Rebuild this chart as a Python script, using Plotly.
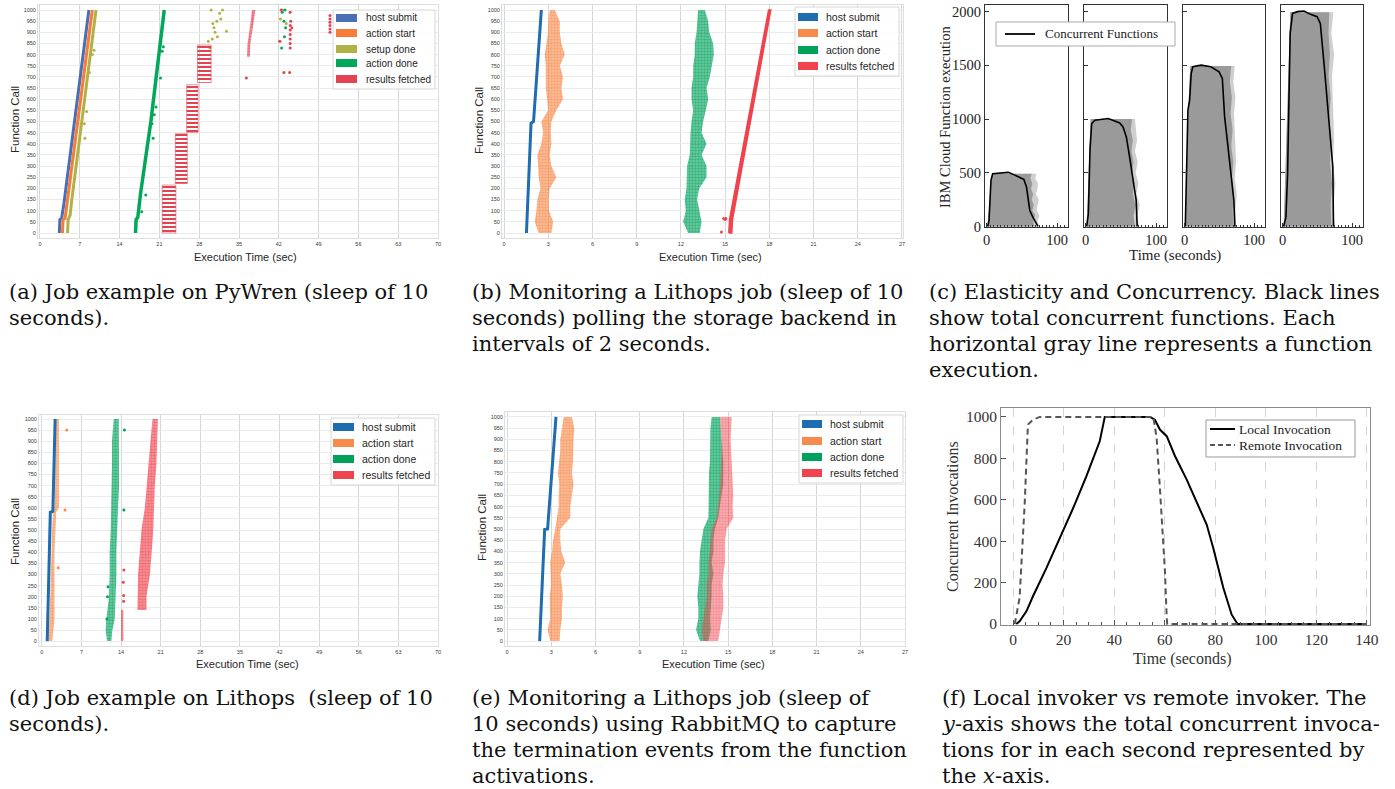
import plotly.graph_objects as go

W, H = 1395, 789

# ---------------- Panel (a): PyWren job ----------------
A_SUBMIT_CALLS = [0, 60, 65, 130, 1000]
A_SUBMIT_T = [3.4, 3.5, 3.8, 4.2, 8.6]
A_START_CALLS = [0, 60, 65, 140, 1000]
A_START_T = [3.95, 4.05, 4.4, 4.8, 9.2]
A_SETUP_CALLS = [0, 60, 80, 150, 1000]
A_SETUP_T = [4.85, 4.95, 5.3, 5.6, 9.85]
A_DONE_CALLS = [0, 60, 70, 180, 500, 1000]
A_DONE_T = [16.8, 16.9, 17.2, 17.7, 19.5, 21.85]
A_SETUP_OUT_T = [7.9, 7.8, 8.2, 8.7, 9.2, 9.5, 9.3, 29.9, 30.3, 30.6, 31.1, 31.6, 32.1, 30.8, 32.8,
                 31.8, 30.1, 30.4, 31.2, 29.6, 42.3, 42.7, 43.3, 42.1]
A_SETUP_OUT_C = [425, 490, 545, 720, 800, 820, 880, 830, 870, 920, 950, 985, 1000, 900, 905,
                 960, 1000, 940, 880, 860, 960, 1000, 940, 860]
A_DONE_OUT_T = [18.6, 17.9, 19.9, 19.7, 20.1, 20.4, 21.2, 21.5, 21.7, 42.9, 43.2, 42.5, 43.0, 42.6, 43.1]
A_DONE_OUT_C = [170, 95, 425, 490, 530, 565, 695, 815, 835, 950, 920, 830, 880, 990, 1000]
A_FETCH_T0 = [21.5, 23.8, 25.8, 27.7]
A_FETCH_T1 = [23.9, 25.9, 27.8, 30.1]
A_FETCH_C0 = [0, 222, 450, 675]
A_FETCH_C1 = [215, 445, 665, 843]
A_FETCH2_CALLS = [790, 850, 900, 950, 1000]
A_FETCH2_LEFT = [36.4, 36.5, 36.8, 37.1, 37.3]
A_FETCH2_RIGHT = [36.9, 37.0, 37.3, 37.6, 37.9]
A_FETCH_OUT_T = [36.3, 42.2, 42.4, 42.9, 43.9, 44.0, 44.0, 44.0, 44.0, 44.0, 44.0, 44.1, 44.0, 44.3,
                 51.0, 51.0, 51.0, 51.0, 51.0, 51.0]
A_FETCH_OUT_C = [695, 860, 1000, 720, 720, 830, 850, 870, 890, 910, 930, 950, 990, 920,
                 900, 915, 930, 945, 960, 975]

# ---------------- Panel (b): Lithops polling ----------------
B_SUBMIT_CALLS = [0, 300, 492, 500, 1000]
B_SUBMIT_T = [1.52, 1.72, 1.83, 2.0, 2.53]
B_CALLS = [0, 50, 100, 150, 200, 250, 300, 350, 400, 450, 500, 550, 600, 650, 700, 750, 800, 850, 900, 950, 1000]
B_START_L = [2.35, 2.08, 2.2, 2.26, 2.47, 2.35, 2.31, 2.26, 2.53, 2.65, 2.53, 2.99, 2.92, 2.83, 2.83, 2.83, 2.76, 2.87, 2.99, 2.99, 3.1]
B_START_R = [3.21, 3.33, 3.05, 3.03, 3.1, 3.55, 3.21, 3.1, 3.21, 3.17, 3.21, 3.55, 4.0, 3.89, 4.0, 3.78, 4.12, 3.89, 3.78, 3.78, 3.44]
B_DONE_L = [12.49, 12.15, 12.33, 12.26, 12.38, 12.38, 12.42, 12.6, 12.6, 12.65, 12.72, 12.83, 12.72, 12.72, 12.83, 12.83, 12.94, 12.94, 13.06, 13.1, 13.17]
B_DONE_R = [13.28, 13.4, 13.24, 13.1, 13.24, 13.74, 13.74, 13.4, 13.74, 13.4, 13.51, 13.69, 13.85, 13.74, 13.96, 14.08, 14.23, 14.19, 13.92, 13.85, 13.62]
B_FETCH_CALLS = [0, 60, 1000]
B_FETCH_L = [15.25, 15.3, 17.95]
B_FETCH_R = [15.45, 15.5, 18.1]
B_FETCH_OUT_T = [14.75, 14.9, 15.05, 15.0]
B_FETCH_OUT_C = [5, 65, 65, 60]

# ---------------- Panel (c): elasticity ----------------
C1_T = [1.4, 3.3, 4.7, 6.1, 8.5, 18.9, 30.7, 37.7, 47, 52.8, 56.6, 59, 61.3, 66, 70.8, 73]
C1_Y = [0, 56, 243, 429, 491, 498, 504, 485, 460, 438, 367, 274, 149, 81, 25, 0]
C2_T = [1.4, 3.8, 6.1, 8.5, 13.1, 22.5, 31.9, 41.3, 48.4, 53.1, 57.8, 62.4, 67.1, 71.8, 73.2]
C2_Y = [0, 118, 709, 958, 989, 998, 1005, 983, 964, 927, 834, 647, 429, 243, 0]
C3_T = [0.9, 3.3, 4.7, 7.1, 9.4, 11.8, 23.6, 37.7, 49.5, 54.2, 57.5, 61.3, 66, 70.8, 72.2]
C3_Y = [0, 554, 1082, 1176, 1425, 1487, 1502, 1487, 1440, 1378, 1020, 802, 491, 243, 0]
C4_T = [1.4, 4.7, 7.1, 9, 10.8, 14.2, 21.2, 30.7, 40.1, 49.5, 54.2, 59.9, 66, 72.2, 73.1]
C4_Y = [0, 87, 491, 1176, 1798, 1984, 2000, 2006, 1975, 1953, 1891, 1487, 1020, 554, 0]
C1_CALLS = [0, 50, 100, 150, 200, 250, 300, 350, 400, 450, 490]
C1_LEFT = [1.5, 2, 2.5, 3, 3.5, 4, 4.5, 5, 5.5, 6.5, 8]
C1_RDARK = [68, 66, 69, 65, 67, 64, 66, 63, 65, 62, 64]
C1_RLIGHT = [74, 72, 75, 71, 73, 74, 70, 72, 73, 69, 71]
C2_CALLS = [0, 100, 200, 300, 400, 500, 600, 700, 800, 900, 1000]
C2_LEFT = [1.5, 2, 2.5, 3, 3.5, 4, 4.5, 5, 5.5, 6, 7]
C2_RDARK = [70, 68, 71, 67, 69, 66, 68, 65, 67, 64, 66]
C2_RLIGHT = [76, 73, 77, 72, 75, 71, 74, 70, 73, 72, 70]
C3_CALLS = [0, 150, 300, 450, 600, 750, 900, 1050, 1200, 1350, 1495]
C3_LEFT = [1, 1.5, 2, 2.5, 3, 3.5, 4, 5, 6, 7, 8]
C3_RDARK = [70, 69, 71, 68, 70, 67, 69, 66, 68, 65, 67]
C3_RLIGHT = [74, 73, 75, 72, 74, 73, 72, 71, 73, 70, 72]
C4_CALLS = [0, 200, 400, 600, 800, 1000, 1200, 1400, 1600, 1800, 1995]
C4_LEFT = [1.5, 2.5, 3.5, 4.5, 5.5, 6.5, 7, 8, 9, 10, 11]
C4_RDARK = [70, 69, 71, 68, 70, 67, 69, 66, 68, 66, 67]
C4_RLIGHT = [75, 73, 76, 72, 74, 73, 72, 71, 74, 70, 73]

# ---------------- Panel (d): Lithops job ----------------
D_SUBMIT_CALLS = [0, 580, 585, 1000]
D_SUBMIT_T = [0.95, 1.5, 1.95, 2.35]
D_CALLS = [0, 100, 200, 300, 400, 500, 580, 600, 700, 800, 900, 1000]
D_START_L = [1.24, 1.36, 1.36, 1.48, 1.65, 1.83, 1.95, 2.24, 2.36, 2.42, 2.42, 2.42]
D_START_R = [1.83, 2.24, 2.24, 2.24, 2.24, 2.36, 2.54, 3.01, 3.13, 3.13, 3.01, 3.01]
D_START_OUT_T = [4.4, 4.1, 2.9]
D_START_OUT_C = [950, 590, 330]
D_DONE_CALLS = [0, 50, 100, 150, 200, 300, 400, 500, 600, 700, 800, 900, 1000]
D_DONE_L = [11.52, 11.28, 11.4, 11.7, 11.87, 11.99, 11.99, 12.17, 12.29, 12.4, 12.4, 12.4, 12.7]
D_DONE_R = [12.29, 12.46, 12.88, 12.88, 13.05, 13.17, 13.17, 13.29, 13.47, 13.64, 13.64, 13.64, 13.59]
D_DONE_OUT_T = [14.6, 14.5, 11.6, 11.7, 11.5]
D_DONE_OUT_C = [950, 590, 200, 245, 100]
D_FETCH1_CALLS = [0, 140]
D_FETCH1_L = [14.0, 14.0]
D_FETCH1_R = [14.4, 14.4]
D_FETCH_OUT_T = [14.45, 14.4, 14.5, 14.45]
D_FETCH_OUT_C = [205, 265, 320, 180]
D_FETCH2_CALLS = [140, 200, 300, 400, 500, 600, 700, 800, 900, 1000]
D_FETCH2_L = [16.89, 16.89, 17.0, 17.3, 17.6, 18.2, 18.5, 18.8, 19.2, 19.55]
D_FETCH2_R = [18.49, 18.49, 19.1, 19.4, 19.7, 19.8, 19.96, 20.26, 20.38, 20.5]

# ---------------- Panel (e): Lithops RabbitMQ ----------------
E_SUBMIT_CALLS = [0, 498, 500, 1000]
E_SUBMIT_T = [2.21, 2.55, 2.75, 3.32]
E_CALLS = [0, 50, 100, 150, 200, 250, 300, 350, 400, 450, 500, 550, 600, 650, 700, 750, 800, 850, 900, 950, 1000]
E_START_L = [2.93, 2.75, 2.93, 2.89, 2.89, 2.98, 2.98, 2.93, 3.05, 3.12, 3.27, 3.39, 3.5, 3.5, 3.54, 3.45, 3.54, 3.61, 3.61, 3.72, 3.84]
E_START_R = [3.57, 3.61, 3.72, 3.72, 3.79, 3.72, 3.61, 3.95, 3.68, 3.61, 3.61, 4.29, 4.29, 4.4, 4.51, 4.4, 4.47, 4.51, 4.51, 4.56, 4.4]
E_DONE_L = [13.09, 12.82, 12.98, 12.98, 12.91, 12.98, 13.05, 13.05, 13.09, 13.2, 13.32, 13.66, 13.66, 13.66, 13.66, 13.7, 13.77, 13.77, 13.77, 13.8, 13.88]
E_DONE_R = [13.66, 13.82, 13.77, 13.82, 13.88, 13.88, 14.0, 13.88, 14.0, 14.0, 14.1, 14.33, 14.45, 14.55, 14.67, 14.67, 14.67, 14.6, 14.56, 14.5, 14.45]
E_FETCH_L = [13.32, 13.2, 13.32, 13.43, 13.54, 13.54, 13.66, 13.66, 13.72, 13.77, 13.88, 14.22, 14.33, 14.4, 14.45, 14.5, 14.56, 14.56, 14.56, 14.5, 14.45]
E_FETCH_R = [14.33, 14.45, 14.56, 14.67, 14.67, 14.62, 14.67, 14.79, 14.79, 14.79, 14.9, 15.35, 15.3, 15.35, 15.35, 15.3, 15.24, 15.2, 15.17, 15.2, 15.24]

# ---------------- Panel (f): local vs remote ----------------
F_LOCAL_T = [1.3, 2.6, 5.3, 7.9, 13.2, 18.5, 23.8, 29, 34.3, 36.3, 54.2, 56.1, 58.1, 60.8, 64.1, 68.7,
             72.6, 76.6, 79.2, 83.2, 86.5, 88.8, 140]
F_LOCAL_Y = [0, 13, 61, 134, 270, 415, 560, 713, 882, 1000, 1000, 987, 939, 907, 810, 697,
             593, 480, 367, 174, 45, 0, 0]
F_REMOTE_T = [0.7, 2.6, 4.6, 5.9, 7.9, 10.6, 55.5, 56.8, 58.1, 60.1, 60.8, 61, 140]
F_REMOTE_Y = [0, 126, 576, 963, 987, 1000, 1000, 899, 657, 254, 29, 0, 0]

LEG4 = ["host submit", "action start", "action done", "results fetched"]
LEG5 = ["host submit", "action start", "setup done", "action done", "results fetched"]
COLA = ["#4a6fb5", "#f77b39", "#b0b245", "#00a85a", "#e24352"]
COLB = ["#1f6db1", "#f88a4b", "#00a25b", "#f0434d"]

fig = go.Figure()


def nm(n):
    return "" if n == 1 else str(n)


def hex_rgba(c, a):
    c = c.lstrip("#")
    return "rgba(%d,%d,%d,%.2f)" % (int(c[0:2], 16), int(c[2:4], 16), int(c[4:6], 16), a)


def line(xs, ys, color, width, n, dash=None):
    fig.add_trace(go.Scatter(x=xs, y=ys, mode="lines", line=dict(color=color, width=width, dash=dash),
                             xaxis="x" + nm(n), yaxis="y" + nm(n), hoverinfo="skip", showlegend=False))


def dots(xs, ys, color, n, size=3):
    fig.add_trace(go.Scatter(x=xs, y=ys, mode="markers", marker=dict(color=color, size=size, line=dict(width=0)),
                             xaxis="x" + nm(n), yaxis="y" + nm(n), hoverinfo="skip", showlegend=False))


def band(calls, left, right, color, n, opacity=1.0, lw=0.0, speckle=True):
    xs = list(left) + list(right)[::-1] + [left[0]]
    ys = list(calls) + list(calls)[::-1] + [calls[0]]
    kw = {}
    if speckle:
        kw["fillpattern"] = dict(shape=".", fgcolor=color, bgcolor=hex_rgba(color, 0.55), size=3, solidity=0.6)
        fill = hex_rgba(color, 0.55)
    else:
        fill = color
    fig.add_trace(go.Scatter(x=xs, y=ys, mode="lines", fill="toself", fillcolor=fill,
                             line=dict(width=lw, color=color), opacity=opacity,
                             xaxis="x" + nm(n), yaxis="y" + nm(n), hoverinfo="skip", showlegend=False, **kw))


# ---- (a) ----
line(A_SUBMIT_T, A_SUBMIT_CALLS, COLA[0], 3, 1)
line(A_START_T, A_START_CALLS, COLA[1], 3, 1)
line(A_SETUP_T, A_SETUP_CALLS, COLA[2], 3, 1)
dots(A_SETUP_OUT_T, A_SETUP_OUT_C, COLA[2], 1)
line(A_DONE_T, A_DONE_CALLS, COLA[3], 3.5, 1)
dots(A_DONE_OUT_T, A_DONE_OUT_C, COLA[3], 1)
bx, by = [], []
for t0, t1, c0, c1 in zip(A_FETCH_T0, A_FETCH_T1, A_FETCH_C0, A_FETCH_C1):
    bx += [t0, t1, t1, t0, t0, None]
    by += [c0, c0, c1, c1, c0, None]
fig.add_trace(go.Scatter(x=bx, y=by, mode="lines", fill="toself", fillcolor="rgba(255,255,255,0)",
                         fillpattern=dict(shape="-", fgcolor=COLA[4], bgcolor="rgba(255,255,255,0)",
                                          fgopacity=1, size=4, solidity=0.5),
                         line=dict(width=0.8, color="rgba(226,67,82,0.7)"), xaxis="x", yaxis="y",
                         hoverinfo="skip", showlegend=False))
band(A_FETCH2_CALLS, A_FETCH2_LEFT, A_FETCH2_RIGHT, COLA[4], 1)
dots(A_FETCH_OUT_T, A_FETCH_OUT_C, COLA[4], 1)

# ---- (b) ----
band(B_CALLS, B_START_L, B_START_R, COLB[1], 2)
band(B_CALLS, B_DONE_L, B_DONE_R, COLB[2], 2)
band(B_FETCH_CALLS, B_FETCH_L, B_FETCH_R, COLB[3], 2, lw=1.5, speckle=False)
dots(B_FETCH_OUT_T, B_FETCH_OUT_C, COLB[3], 2)
line(B_SUBMIT_T, B_SUBMIT_CALLS, COLB[0], 3, 2)

# ---- (c) ----
c_sets = [
    (C1_CALLS, C1_LEFT, C1_RDARK, C1_RLIGHT, C1_T, C1_Y),
    (C2_CALLS, C2_LEFT, C2_RDARK, C2_RLIGHT, C2_T, C2_Y),
    (C3_CALLS, C3_LEFT, C3_RDARK, C3_RLIGHT, C3_T, C3_Y),
    (C4_CALLS, C4_LEFT, C4_RDARK, C4_RLIGHT, C4_T, C4_Y),
]
for i, (cc, cl, crd, crl, ct, cy) in enumerate(c_sets):
    n = 3 + i
    band(cc, cl, crl, "#cfcfcf", n, speckle=False)
    band(cc, cl, crd, "#9a9a9a", n, speckle=False)
    line(ct, cy, "#000000", 1.6, n)

# ---- (d) ----
band(D_CALLS, D_START_L, D_START_R, COLB[1], 7)
dots(D_START_OUT_T, D_START_OUT_C, COLB[1], 7)
band(D_DONE_CALLS, D_DONE_L, D_DONE_R, COLB[2], 7)
dots(D_DONE_OUT_T, D_DONE_OUT_C, COLB[2], 7)
band(D_FETCH1_CALLS, D_FETCH1_L, D_FETCH1_R, COLB[3], 7)
dots(D_FETCH_OUT_T, D_FETCH_OUT_C, COLB[3], 7)
band(D_FETCH2_CALLS, D_FETCH2_L, D_FETCH2_R, COLB[3], 7)
line(D_SUBMIT_T, D_SUBMIT_CALLS, COLB[0], 3, 7)

# ---- (e) ----
band(E_CALLS, E_START_L, E_START_R, COLB[1], 8)
band(E_CALLS, E_DONE_L, E_DONE_R, COLB[2], 8)
band(E_CALLS, E_FETCH_L, E_FETCH_R, COLB[3], 8, opacity=0.75)
line(E_SUBMIT_T, E_SUBMIT_CALLS, COLB[0], 3, 8)

# ---- (f) ----
line(F_LOCAL_T, F_LOCAL_Y, "#000000", 2, 9)
line(F_REMOTE_T, F_REMOTE_Y, "#555555", 2, 9, dash="6px,4px")

# ---------------- axes ----------------
layout = dict(width=W, height=H, margin=dict(l=0, r=0, t=0, b=0, pad=0, autoexpand=False),
              paper_bgcolor="white", plot_bgcolor="white", showlegend=False)


def dom_x(a, b):
    return [a / W, b / W]


def dom_y(top, bottom):
    return [1 - bottom / H, 1 - top / H]


SANS_TICK = dict(family="Liberation Sans", size=5.5, color="#3a3a3a")


def sns_axes(n, xd, yd, xr, xt, yr):
    k = nm(n)
    layout["xaxis" + k] = dict(domain=dom_x(*xd), range=xr, tickvals=xt, anchor="y" + k, showgrid=True,
                               gridcolor="#d6d6d6", gridwidth=1, zeroline=False, showline=True,
                               linecolor="#dedede", mirror=True, ticks="", tickfont=SANS_TICK,
                               automargin=False, fixedrange=True)
    layout["yaxis" + k] = dict(domain=dom_y(*yd), range=yr, tickvals=list(range(0, 1001, 50)), anchor="x" + k,
                               showgrid=True, gridcolor="#ebebeb", gridwidth=1, zeroline=False, showline=True,
                               linecolor="#dedede", mirror=True, ticks="", tickfont=SANS_TICK,
                               automargin=False, fixedrange=True)


sns_axes(1, (38, 438), (5, 238), [-0.35, 70], list(range(0, 71, 7)), [-22.4, 1022.4])
sns_axes(2, (502, 903), (5, 238), [-0.14, 27.07], list(range(0, 28, 3)), [-22.4, 1022.4])
sns_axes(7, (39, 438), (415, 646), [-0.5, 70], list(range(0, 71, 7)), [-22, 1018])
sns_axes(8, (505, 905), (412, 646), [-0.14, 27], list(range(0, 28, 3)), [-22, 1022])

SERIF = "Liberation Serif"
c_x = [(985, 1068), (1084, 1167), (1183, 1265), (1281, 1363)]
for i, xd in enumerate(c_x):
    k = nm(3 + i)
    layout["xaxis" + k] = dict(domain=dom_x(*xd), range=[-2.4, 115.6], tickvals=[0, 100], anchor="y" + k,
                               showgrid=False, zeroline=False, showline=True, linecolor="#333333", linewidth=1,
                               mirror=True, ticks="inside", ticklen=4, tickcolor="#333333",
                               minor=dict(dtick=5, ticks="inside", ticklen=2, tickcolor="#333333"),
                               tickfont=dict(family=SERIF, size=14.5, color="#222222"),
                               automargin=False, fixedrange=True)
    layout["yaxis" + k] = dict(domain=dom_y(5, 227), range=[-5, 2062], tickvals=[0, 500, 1000, 1500, 2000],
                               anchor="x" + k, showgrid=False, zeroline=False, showline=True,
                               linecolor="#333333", linewidth=1, mirror=True, ticks="inside", ticklen=4,
                               tickcolor="#333333", showticklabels=(i == 0),
                               tickfont=dict(family=SERIF, size=14.5, color="#222222"),
                               automargin=False, fixedrange=True)

layout["xaxis9"] = dict(domain=dom_x(1001, 1370), range=[-4.75, 141.2], tickvals=list(range(0, 141, 20)),
                        anchor="y9", showgrid=True, gridcolor="#d4d4d4", griddash="dash", gridwidth=1,
                        zeroline=False, showline=True, linecolor="#8a8a8a", mirror=True, ticks="inside",
                        ticklen=5, tickcolor="#555555",
                        minor=dict(dtick=5, ticks="inside", ticklen=3, tickcolor="#555555", showgrid=False),
                        tickfont=dict(family=SERIF, size=15.5, color="#333333"),
                        automargin=False, fixedrange=True)
layout["yaxis9"] = dict(domain=dom_y(408, 625), range=[-4.8, 1043], tickvals=list(range(0, 1001, 200)),
                        anchor="x9", showgrid=False, zeroline=False, showline=True, linecolor="#8a8a8a",
                        mirror=True, ticks="inside", ticklen=5, tickcolor="#555555",
                        tickfont=dict(family=SERIF, size=15.5, color="#333333"),
                        automargin=False, fixedrange=True)

fig.update_layout(**layout)

# ---------------- text, legends ----------------
ann = []
shapes = []


def text(x, y, s, size, family, color="#222222", anchor="left", angle=0, valign="middle"):
    ann.append(dict(x=x / W, y=1 - y / H, xref="paper", yref="paper", text=s, showarrow=False,
                    xanchor=anchor, yanchor=valign, textangle=angle,
                    font=dict(size=size, family=family, color=color)))


def rect(x0, y0, x1, y1, fill, linecolor=None, lw=1):
    shapes.append(dict(type="rect", xref="paper", yref="paper", x0=x0 / W, x1=x1 / W,
                       y0=1 - y1 / H, y1=1 - y0 / H, fillcolor=fill,
                       line=dict(color=linecolor or fill, width=lw if linecolor else 0)))


def seg(x0, y0, x1, y1, color, width, dash=None):
    shapes.append(dict(type="line", xref="paper", yref="paper", x0=x0 / W, x1=x1 / W,
                       y0=1 - y0 / H, y1=1 - y1 / H, line=dict(color=color, width=width, dash=dash)))


def sns_legend(box, rows, px0, px1, tx, labels, colors, fsize):
    rect(*box, "rgba(255,255,255,0.9)", "#d6d6d6", 1)
    for yy, lab, col in zip(rows, labels, colors):
        rect(px0, yy - 4, px1, yy + 4, col)
        text(tx, yy, lab, fsize, "Liberation Sans", "#262626")


sns_legend((333, 10, 435, 89), [18, 33, 49, 63, 79], 336, 357, 364, LEG5, COLA, 10)
sns_legend((795, 7, 899, 76), [17, 33, 50, 66], 798, 818, 824, LEG4, COLB, 10.5)
sns_legend((331, 418, 435, 485), [427, 443, 459, 475], 333, 354, 360, LEG4, COLB, 10.5)
sns_legend((799, 415, 903, 483), [424, 441, 457, 473], 802, 822, 828, LEG4, COLB, 10.5)

# axis titles (a, b, d, e)
for (xl, yl, xc, yc) in [(15, 120, 246, 257), (479, 120, 710, 257), (15, 532, 247, 664), (482, 528, 713, 664)]:
    text(xl, yl, "Function Call", 11.5, "Liberation Sans", "#262626", anchor="center", angle=-90)
    text(xc, yc, "Execution Time (sec)", 11, "Liberation Sans", "#262626", anchor="center")

# (c) legend and titles
rect(996, 22, 1175, 46, "white", "#aaaaaa", 1)
seg(1005, 34, 1035, 34, "#000000", 1.8)
text(1043, 34, "Concurrent Functions", 13, SERIF, "#222222")
text(945, 117, "IBM Cloud Function execution", 14.5, SERIF, "#222222", anchor="center", angle=-90)
text(1175, 255, "Time (seconds)", 15, SERIF, "#222222", anchor="center")

# (f) legend and titles
rect(1206, 420, 1355, 457, "white", "#999999", 1)
seg(1210, 429, 1235, 429, "#000000", 2)
seg(1210, 445, 1235, 445, "#555555", 2, dash="5px,3px")
text(1237, 429, "Local Invocation", 13.5, SERIF, "#222222")
text(1237, 445, "Remote Invocation", 13.5, SERIF, "#222222")
text(952, 517, "Concurrent Invocations", 16, SERIF, "#333333", anchor="center", angle=-90)
text(1182, 659, "Time (seconds)", 16, SERIF, "#333333", anchor="center")

# captions
CAPF = "DejaVu Serif"
CAP = 21
captions = [
    (7, 292, ["(a) Job example on PyWren (sleep of 10", "seconds)."]),
    (470, 292, ["(b) Monitoring a Lithops job (sleep of 10", "seconds) polling the storage backend in",
                "intervals of 2 seconds."]),
    (927, 292, ["(c) Elasticity and Concurrency. Black lines", "show total concurrent functions. Each",
                "horizontal gray line represents a function", "execution."]),
    (7, 698, ["(d) Job example on Lithops  (sleep of 10", "seconds)."]),
    (470, 698, ["(e) Monitoring a Lithops job (sleep of", "10 seconds) using RabbitMQ to capture",
                "the termination events from the function", "activations."]),
    (940, 698, ["(f) Local invoker vs remote invoker. The", "<i>y</i>-axis shows the total concurrent invoca-",
                "tions for in each second represented by", "the <i>x</i>-axis."]),
]
for x0, y0, lines in captions:
    for j, s in enumerate(lines):
        text(x0, y0 + 26 * j, s, CAP, CAPF, "#111111")

fig.update_layout(annotations=ann, shapes=shapes)
fig.write_html("out.html", config={"displayModeBar": False},
               post_script="document.body.style.margin='0px';document.body.style.overflow='hidden';")
